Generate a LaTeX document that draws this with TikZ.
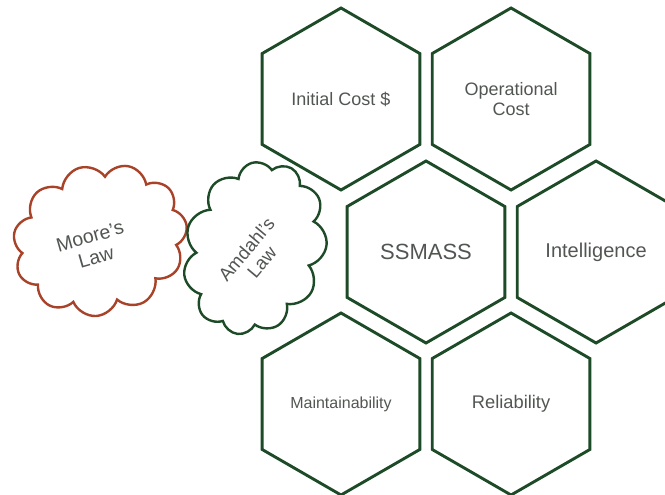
\documentclass[tikz,border=0pt]{standalone}
\usepackage{fontspec}
\setmainfont{Liberation Sans}
\usepackage{tikz}
\usetikzlibrary{positioning,shapes.geometric,shapes.symbols}

\definecolor{hexgreen}{HTML}{1D4A27}
\definecolor{moorered}{HTML}{A8432A}
\definecolor{txtgray}{HTML}{525652}

\begin{document}
\begin{tikzpicture}[
  x=1pt, y=-1pt,
  node distance=9.5pt,
  hexa/.style={regular polygon, regular polygon sides=6, shape border rotate=30,
    minimum size=182pt, inner sep=0pt, draw=hexgreen, line width=2.9pt,
    align=center, text=txtgray, font=\fontsize{18}{20}\selectfont},
  puff/.style={cloud, cloud puffs=11, cloud puff arc=140, cloud ignores aspect,
    fill=white, line width=2.4pt, inner sep=0pt},
  lbl/.style={text=txtgray, align=center, font=\fontsize{19.5}{22}\selectfont}]
  \useasboundingbox (0,0) rectangle (665,495);
  \clip (0,0) rectangle (665,495);
  % hexagon tiles
  \node[hexa] (init) at (341,99) {Initial Cost \$};
  \node[hexa, right=of init] (oper) {Operational\\Cost};
  \node[hexa, font=\fontsize{22}{24}\selectfont] (core) at (426,252) {SSMASS};
  \node[hexa, right=of core, font=\fontsize{20}{22}\selectfont] (intel) {Intelligence};
  \node[hexa, font=\fontsize{16}{18}\selectfont] (maint) at (341,404) {Maintainability};
  \node[hexa, right=of maint, font=\fontsize{18.3}{20}\selectfont] (rel) {Reliability};
  % clouds
  \node[puff, draw=moorered, minimum width=176pt, minimum height=150pt,
    rotate=16] (moore) at (100,240) {};
  \node[lbl, rotate=16] (mooretxt) at (93,247) {Moore’s\\Law};
  \node[puff, draw=hexgreen, minimum width=176pt, minimum height=140pt,
    rotate=72] (amdahl) at (255,248) {};
  \node[lbl, rotate=50, font=\fontsize{18.5}{20}\selectfont] (amdahltxt)
    at (254,256) {Amdahl's\\Law};
\end{tikzpicture}
\end{document}
